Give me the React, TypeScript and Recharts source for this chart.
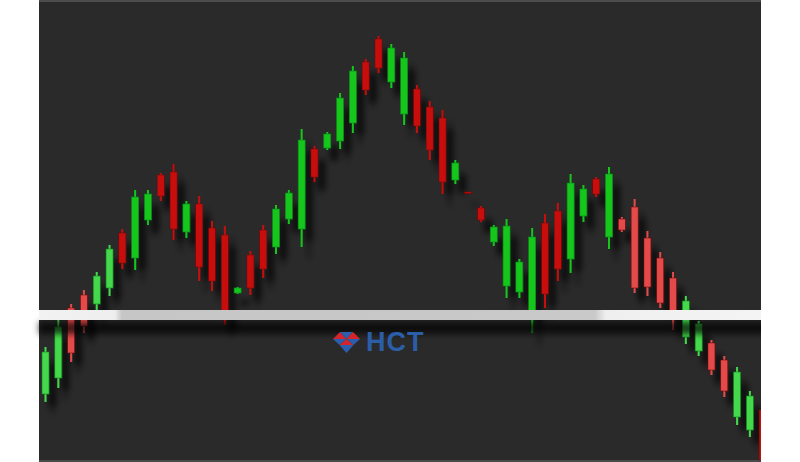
import { BarChart, Bar, XAxis, YAxis, ReferenceLine } from 'recharts'

// price readings, one per candle, left to right
const opens = [
  6.8, 8.4, 15.4, 16.7, 15.8, 17.4, 22.9, 20.4, 24.2, 28.7, 29.0, 23.0, 25.8, 23.4, 22.7,
  16.9, 20.7, 23.2, 21.5, 24.3, 23.3, 31.3, 31.4, 32.1, 33.9, 40.0, 42.3, 38.0, 34.8, 37.3,
  35.5, 34.4, 28.2, 27.0, 25.4, 22.0, 17.6, 17.0, 15.0, 23.9, 25.1, 20.3, 24.6, 28.3, 22.5,
  24.3, 25.5, 22.4, 20.4, 18.4, 12.5, 11.1, 11.9, 10.2, 4.5, 3.2, 5.2,
]
const closes = [
  11.0, 13.5, 10.9, 13.6, 18.6, 21.3, 19.9, 26.5, 26.8, 26.6, 23.3, 25.8, 19.5, 18.1, 14.4,
  17.4, 17.4, 19.3, 25.3, 26.9, 32.2, 28.5, 32.8, 36.4, 39.1, 37.2, 39.4, 41.4, 40.4, 33.6,
  31.2, 28.0, 29.9, 26.9, 24.2, 23.5, 23.6, 20.0, 22.5, 16.8, 19.3, 27.9, 27.3, 26.8, 28.8,
  23.2, 17.4, 17.5, 15.9, 14.3, 16.1, 13.8, 9.2, 7.1, 9.0, 6.6, 0.2,
]
const highs = [
  11.5, 14.2, 15.8, 17.2, 19.0, 21.7, 23.3, 27.2, 27.2, 28.9, 29.8, 26.1, 26.6, 24.1, 23.6,
  17.5, 21.1, 23.7, 25.7, 27.2, 33.3, 31.6, 33.0, 36.9, 39.6, 40.3, 42.6, 41.8, 41.0, 37.7,
  36.1, 35.2, 30.2, 27.0, 25.6, 23.7, 24.3, 20.3, 23.4, 24.8, 25.9, 28.8, 27.7, 28.5, 29.5,
  24.5, 26.3, 23.1, 21.0, 19.0, 16.6, 14.1, 12.2, 10.6, 9.5, 7.1, 5.5,
]
const lows = [
  6.0, 7.4, 10.0, 12.9, 14.9, 16.6, 19.3, 19.2, 23.7, 26.1, 22.2, 22.4, 18.1, 17.1, 13.7,
  16.8, 16.7, 18.4, 20.8, 23.8, 21.5, 28.0, 31.2, 31.3, 32.9, 36.7, 38.9, 37.4, 33.7, 32.9,
  30.2, 26.8, 27.8, 26.9, 24.0, 21.6, 16.4, 16.4, 12.9, 15.4, 18.1, 18.9, 24.0, 26.5, 21.3,
  23.0, 16.9, 16.6, 15.4, 13.2, 11.8, 10.6, 8.7, 6.5, 3.7, 2.5, 0.0,
]
const neckline = 14.7

const data = opens.map((open, i) => ({
  name: `${i + 1}`,
  open,
  close: closes[i],
  high: highs[i],
  low: lows[i],
}))

const Candle = (props: any) => {
  const { x, y, width, height, payload, index } = props
  const { open, close, high, low } = payload
  const top = Math.min(y, y + height)
  const h = Math.abs(height)
  const range = high - low || 1
  const py = (v: number) => top + ((high - v) / range) * h
  const up = close >= open
  const light = index < 6 || (index >= 45 && index < 56)
  const fill = up ? (light ? '#45d84e' : '#12c61d') : light ? '#e34c4c' : '#c80c0c'
  const edge = up ? '#0c8a14' : '#7a0808'
  const cx = x + width / 2
  const bTop = py(Math.max(open, close))
  const bBot = py(Math.min(open, close))
  const bw = 7
  return (
    <g filter="url(#candleShadow)">
      <line x1={cx} x2={cx} y1={top} y2={top + h} stroke={fill} strokeWidth={2} />
      <rect
        x={cx - bw / 2}
        y={bTop}
        width={bw}
        height={Math.max(bBot - bTop, 1.5)}
        fill={fill}
        stroke={edge}
        strokeWidth={0.6}
      />
    </g>
  )
}

export default function App() {
  return (
    <div style={{ position: 'absolute', left: 0, top: 0, width: 800, height: 462, background: '#ffffff', overflow: 'hidden' }}>
      <svg width={0} height={0} style={{ position: 'absolute' }}>
        <defs>
          <filter id="candleShadow" filterUnits="userSpaceOnUse" x={0} y={0} width={800} height={462}>
            <feDropShadow dx={7} dy={12} stdDeviation={3} floodColor="#000000" floodOpacity={0.75} />
          </filter>
          <filter id="blurLine" filterUnits="userSpaceOnUse" x={0} y={0} width={800} height={462}>
            <feGaussianBlur stdDeviation={3} />
          </filter>
          <linearGradient id="neckGrad" gradientUnits="userSpaceOnUse" x1={39} y1={0} x2={761} y2={0}>
            <stop offset="0" stopColor="#f2f2f2" />
            <stop offset="0.105" stopColor="#eeeeee" />
            <stop offset="0.115" stopColor="#c6c6c6" />
            <stop offset="0.77" stopColor="#c9c9c9" />
            <stop offset="0.785" stopColor="#efefef" />
            <stop offset="1" stopColor="#f4f4f4" />
          </linearGradient>
        </defs>
      </svg>
      <div
        style={{
          position: 'absolute',
          left: 39,
          top: 0,
          width: 722,
          height: 462,
          background: '#2a2a2a',
          borderTop: '2px solid #4d4d4d',
          borderBottom: '2px solid #4a4a4a',
          boxSizing: 'border-box',
        }}
      />
      <div style={{ position: 'absolute', left: 0, top: 0 }}>
        <BarChart width={800} height={462} data={data} margin={{ top: 0, right: 31, left: 39, bottom: 0 }} barCategoryGap={0}>
          <XAxis dataKey="name" hide />
          <YAxis hide domain={[0, 46.2]} allowDataOverflow />
          <Bar dataKey={(d: any) => [d.low, d.high]} shape={Candle} isAnimationActive={false} />
          <ReferenceLine y={neckline - 1.3} stroke="#000000" strokeOpacity={0.7} strokeWidth={12} filter="url(#blurLine)" />
          <ReferenceLine y={neckline} stroke="url(#neckGrad)" strokeWidth={10} />
        </BarChart>
      </div>
      <div style={{ position: 'absolute', left: 761, top: 0, width: 39, height: 462, background: '#ffffff' }} />
      <div style={{ position: 'absolute', left: 333, top: 329, display: 'flex', alignItems: 'center', gap: 6 }}>
        <svg width={27} height={24} viewBox="0 0 27 24">
          <polygon points="0,9 7,2 13.5,9" fill="#d3262b" />
          <polygon points="7,2 20,2 13.5,9" fill="#2b5fae" />
          <polygon points="13.5,9 20,2 27,9" fill="#d3262b" />
          <polygon points="0,9 13.5,9 6.5,15" fill="#2b5fae" />
          <polygon points="6.5,15 13.5,9 20.5,15" fill="#d3262b" />
          <polygon points="13.5,9 27,9 20.5,15" fill="#2b5fae" />
          <polygon points="6.5,15 20.5,15 13.5,23" fill="#2b5fae" />
        </svg>
        <span
          style={{
            fontFamily: '"Liberation Sans", Arial, sans-serif',
            fontWeight: 700,
            fontSize: 27,
            color: '#2a5ea9',
            letterSpacing: 1,
            lineHeight: '26px',
          }}
        >
          HCT
        </span>
      </div>
    </div>
  )
}
